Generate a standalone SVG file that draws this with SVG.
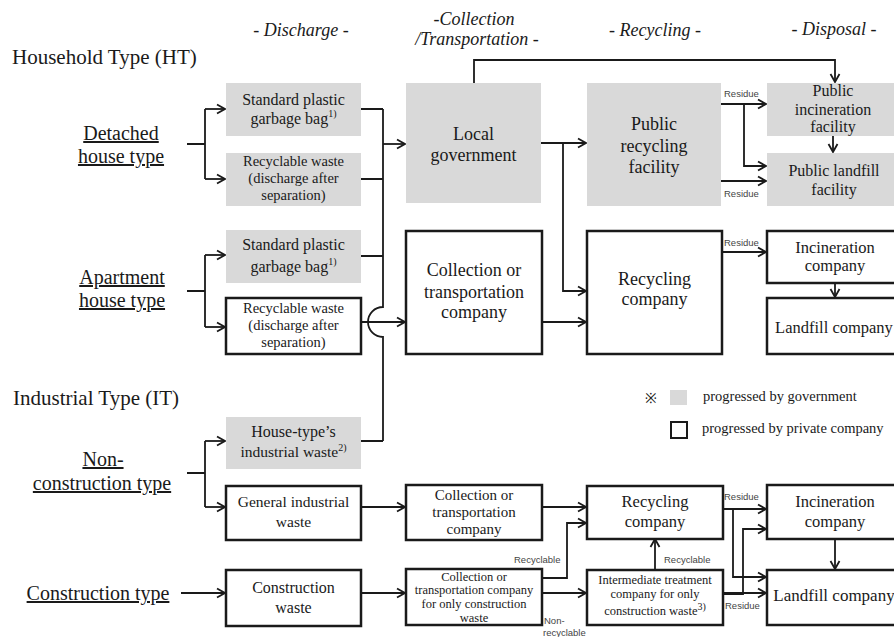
<svg xmlns="http://www.w3.org/2000/svg" width="894" height="637" viewBox="0 0 894 637">
<style>
text{font-family:"Liberation Serif","Times New Roman",serif;fill:#1a1a1a;text-anchor:middle}
.hd{font-style:italic;font-size:18px}
.sec{font-size:21px;text-anchor:start}
.ty{font-size:20px;text-decoration:underline}
.g{fill:#d9d9d9;stroke:none}
.w{fill:#fff;stroke:#1a1a1a;stroke-width:2.5}
.lbl{font-family:"Liberation Sans",Arial,sans-serif;font-size:9.5px;fill:#444;text-anchor:start}
.c path{fill:none;stroke:#1a1a1a;stroke-width:1.8}
.sup{font-size:10px}
</style>
<defs>
<marker id="ah" markerUnits="userSpaceOnUse" markerWidth="12" markerHeight="12" viewBox="0 0 12 12" refX="11" refY="6" orient="auto">
<path d="M3,1.5 L11,6 L3,10.5" fill="none" stroke="#1a1a1a" stroke-width="1.8"/>
</marker>
</defs>
<rect width="894" height="637" fill="#fff"/>

<g id="headers">
<text class="hd" x="301" y="36">- Discharge -</text>
<text class="hd" x="474" y="25">-Collection</text>
<text class="hd" x="477" y="45">/Transportation -</text>
<text class="hd" x="655" y="36">- Recycling -</text>
<text class="hd" x="834" y="35">- Disposal -</text>
<text class="sec" x="12" y="64">Household Type (HT)</text>
<text class="sec" x="13" y="405">Industrial Type (IT)</text>
</g>

<g id="type-detached"><text class="ty" x="121" y="140">Detached</text><text class="ty" x="121" y="163">house type</text></g>
<g id="type-apartment"><text class="ty" x="122" y="284">Apartment</text><text class="ty" x="122" y="307">house type</text></g>
<g id="type-nonconstruction"><text class="ty" x="103" y="466">Non-</text><text class="ty" x="102" y="490">construction type</text></g>
<g id="type-construction"><text class="ty" x="98" y="600">Construction type</text></g>

<g id="d-bag1"><rect class="g" x="226" y="83" width="135" height="53"/>
<text x="293.5" y="105" font-size="16">Standard plastic</text>
<text x="293.5" y="124" font-size="16">garbage bag<tspan class="sup" dy="-7">1)</tspan></text></g>
<g id="d-rec1"><rect class="g" x="226" y="153" width="135" height="53"/>
<text x="293.5" y="166" font-size="14.5">Recyclable waste</text>
<text x="293.5" y="183" font-size="14.5">(discharge after</text>
<text x="293.5" y="200" font-size="14.5">separation)</text></g>
<g id="d-bag2"><rect class="g" x="226" y="230" width="135" height="53"/>
<text x="293.5" y="250" font-size="16">Standard plastic</text>
<text x="293.5" y="272" font-size="16">garbage bag<tspan class="sup" dy="-7" font-size="12">1)</tspan></text></g>
<g id="d-rec2"><rect class="w" x="226" y="298" width="135" height="56"/>
<text x="293.5" y="313" font-size="14.5">Recyclable waste</text>
<text x="293.5" y="330" font-size="14.5">(discharge after</text>
<text x="293.5" y="347" font-size="14.5">separation)</text></g>
<g id="d-house-ind"><rect class="g" x="226" y="417" width="135" height="52"/>
<text x="293.5" y="437" font-size="16">House-type’s</text>
<text x="293.5" y="457" font-size="15.5">industrial waste<tspan class="sup" dy="-6">2)</tspan></text></g>
<g id="d-general"><rect class="w" x="226" y="486" width="135" height="54"/>
<text x="293.5" y="507" font-size="15.5">General industrial</text>
<text x="293.5" y="527" font-size="15.5">waste</text></g>
<g id="d-construction"><rect class="w" x="226" y="570" width="135" height="56"/>
<text x="293.5" y="593" font-size="16">Construction</text>
<text x="293.5" y="613" font-size="16">waste</text></g>

<g id="local-gov"><rect class="g" x="406" y="83" width="135" height="120"/>
<text x="473.5" y="140" font-size="18">Local</text>
<text x="473.5" y="161" font-size="18">government</text></g>
<g id="collection-co"><rect class="w" x="406" y="231" width="136" height="123"/>
<text x="474" y="276" font-size="18">Collection or</text>
<text x="474" y="298" font-size="18">transportation</text>
<text x="474" y="318" font-size="18">company</text></g>
<g id="collection-co-2"><rect class="w" x="406" y="485" width="136" height="55"/>
<text x="474" y="500" font-size="15">Collection or</text>
<text x="474" y="517" font-size="15">transportation</text>
<text x="474" y="534" font-size="15">company</text></g>
<g id="collection-co-constr"><rect class="w" x="406" y="569" width="136" height="56"/>
<text x="474" y="581" font-size="12.5">Collection or</text>
<text x="474" y="594" font-size="12.5">transportation company</text>
<text x="474" y="608" font-size="12.5">for only construction</text>
<text x="474" y="622" font-size="12.5">waste</text></g>

<g id="public-recycling"><rect class="g" x="587" y="83" width="134" height="123"/>
<text x="654" y="130" font-size="18">Public</text>
<text x="654" y="152" font-size="18">recycling</text>
<text x="654" y="173" font-size="18">facility</text></g>
<g id="recycling-co"><rect class="w" x="587" y="231" width="135" height="123"/>
<text x="654.5" y="285" font-size="18">Recycling</text>
<text x="654.5" y="305" font-size="18">company</text></g>
<g id="recycling-co-2"><rect class="w" x="587" y="486" width="136" height="53"/>
<text x="655" y="507" font-size="16.5">Recycling</text>
<text x="655" y="527" font-size="16.5">company</text></g>
<g id="intermediate"><rect class="w" x="587" y="570" width="136" height="55"/>
<text x="655" y="584" font-size="12.5">Intermediate treatment</text>
<text x="655" y="598" font-size="12.5">company for only</text>
<text x="655" y="615" font-size="12.5">construction waste<tspan class="sup" dy="-5">3)</tspan></text></g>

<g id="public-incineration"><rect class="g" x="767" y="83" width="130" height="53"/>
<text x="833" y="96" font-size="16">Public</text>
<text x="833" y="115" font-size="16">incineration</text>
<text x="833" y="132" font-size="16">facility</text></g>
<g id="public-landfill"><rect class="g" x="767" y="153" width="130" height="53"/>
<text x="834" y="176" font-size="16">Public landfill</text>
<text x="834" y="195" font-size="16">facility</text></g>
<g id="incineration-co"><rect class="w" x="767" y="231" width="132" height="52"/>
<text x="835" y="253" font-size="16.5">Incineration</text>
<text x="835" y="271" font-size="16.5">company</text></g>
<g id="landfill-co"><rect class="w" x="767" y="298" width="132" height="56"/>
<text x="834" y="333" font-size="16.5">Landfill company</text></g>
<g id="incineration-co-2"><rect class="w" x="767" y="485" width="132" height="54"/>
<text x="835" y="507" font-size="16.5">Incineration</text>
<text x="835" y="527" font-size="16.5">company</text></g>
<g id="landfill-co-2"><rect class="w" x="767" y="570" width="132" height="55"/>
<text x="834" y="601" font-size="17">Landfill company</text></g>

<g id="legend">
<text x="651" y="403" font-size="14" font-family="DejaVu Sans, sans-serif" fill="#555">※</text>
<rect class="g" x="670" y="390" width="17" height="15"/>
<text x="703" y="401" font-size="14.5" style="text-anchor:start">progressed by government</text>
<rect x="671" y="422" width="16" height="16" fill="#fff" stroke="#1a1a1a" stroke-width="2"/>
<text x="702" y="433" font-size="14.5" style="text-anchor:start">progressed by private company</text>
</g>

<g id="connectors" class="c">
<path d="M187,144 H205 M205,109 V179"/>
<path d="M205,109 H225" marker-end="url(#ah)"/>
<path d="M205,179 H225" marker-end="url(#ah)"/>
<path d="M187,291 H205 M205,255 V327"/>
<path d="M205,255 H225" marker-end="url(#ah)"/>
<path d="M205,327 H225" marker-end="url(#ah)"/>
<path d="M187,473 H205 M205,441 V507"/>
<path d="M205,441 H225" marker-end="url(#ah)"/>
<path d="M205,507 H225" marker-end="url(#ah)"/>
<path d="M181,593 H225" marker-end="url(#ah)"/>

<path d="M361,109 H383 M361,179 H383 M361,256 H383 M361,441 H383 M383,109 V307 A15,15 0 0 0 383,337 V441"/>
<path d="M383,144 H405" marker-end="url(#ah)"/>
<path d="M361,322 H405" marker-end="url(#ah)"/>

<path d="M474,83 V60 H835 V82" marker-end="url(#ah)"/>
<path d="M541,143 H586" marker-end="url(#ah)"/>
<path d="M563,143 V291 H586" marker-end="url(#ah)"/>
<path d="M542,322 H586" marker-end="url(#ah)"/>

<path d="M721,104 H766" marker-end="url(#ah)"/>
<path d="M744,104 V166 H766" marker-end="url(#ah)"/>
<path d="M721,181 H766" marker-end="url(#ah)"/>
<path d="M833,136 V152" marker-end="url(#ah)"/>
<path d="M722,252 H766" marker-end="url(#ah)"/>
<path d="M835,283 V297" marker-end="url(#ah)"/>

<path d="M361,507 H405" marker-end="url(#ah)"/>
<path d="M361,593 H405" marker-end="url(#ah)"/>
<path d="M542,507 H586" marker-end="url(#ah)"/>
<path d="M542,578 H567 V523 H586" marker-end="url(#ah)"/>
<path d="M542,593 H586" marker-end="url(#ah)"/>
<path d="M655,570 V539" marker-end="url(#ah)"/>
<path d="M723,509 H766" marker-end="url(#ah)"/>
<path d="M733,509 V577 H766" marker-end="url(#ah)"/>
<path d="M723,594 H743 V529 H766" marker-end="url(#ah)"/>
<path d="M723,593 H766" marker-end="url(#ah)"/>
<path d="M835,539 V569" marker-end="url(#ah)"/>
</g>

<g id="connector-labels">
<text class="lbl" x="724" y="97">Residue</text>
<text class="lbl" x="724" y="197">Residue</text>
<text class="lbl" x="724" y="246">Residue</text>
<text class="lbl" x="724" y="500">Residue</text>
<text class="lbl" x="725" y="609">Residue</text>
<text class="lbl" x="514" y="563">Recyclable</text>
<text class="lbl" x="664" y="563">Recyclable</text>
<text class="lbl" x="544" y="624">Non-</text>
<text class="lbl" x="543" y="636">recyclable</text>
</g>
</svg>
